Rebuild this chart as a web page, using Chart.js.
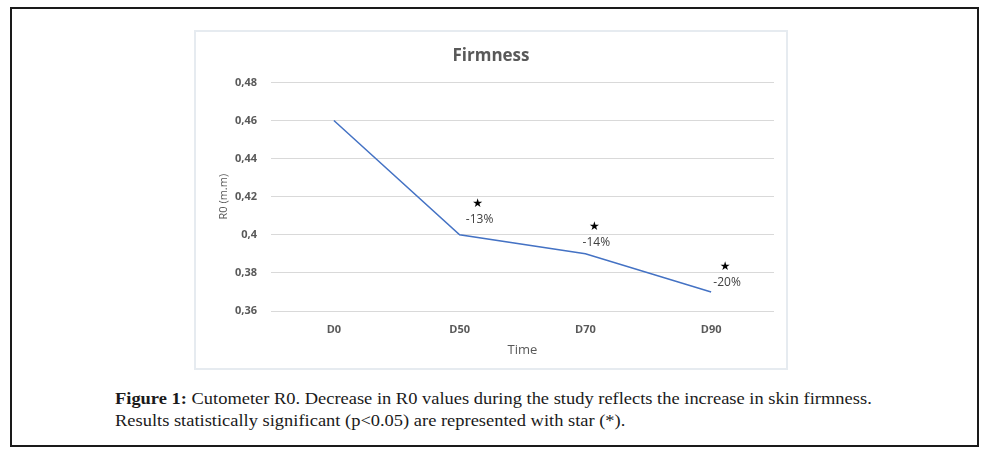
<!DOCTYPE html>
<html lang="en">
<head>
    <meta charset="UTF-8">
    <title>Firmness</title>
    <script src="https://cdn.jsdelivr.net/npm/chart.js"></script>
    <style>
        body {
            margin: 0;
            background: #ffffff;
        }

        .frame {
            position: absolute;
            left: 10px;
            top: 7px;
            width: 965px;
            height: 436px;
            border: 2px solid #1a1a1a;
        }

        .chart-box {
            position: absolute;
            left: 194px;
            top: 30px;
            width: 590px;
            height: 336px;
            border: 2px solid #e6ebf0;
        }

        .caption {
            position: absolute;
            left: 115px;
            top: 388px;
            font-family: "Liberation Serif", "DejaVu Serif", serif;
            font-size: 17px;
            line-height: 22px;
            color: #1a1a1a;
            white-space: nowrap;
            transform: scaleX(1.085);
            transform-origin: left top;
        }
    </style>
</head>
<body>

    <div class="frame"></div>

    <!-- Graphique -->
    <div class="chart-box">
        <canvas id="graphFirmness" width="590" height="336"></canvas>
    </div>

    <div class="caption">
        <b>Figure 1:</b> Cutometer R0. Decrease in R0 values during the study reflects the increase in skin firmness.<br>
        Results statistically significant (p&lt;0.05) are represented with star (*).
    </div>

    <script>
        // Données
        const days = ['D0', 'D50', 'D70', 'D90'];
        const r0Values = [0.46, 0.40, 0.39, 0.37];
        const yTicks = [0.36, 0.38, 0.40, 0.42, 0.44, 0.46, 0.48];
        // étoiles (p<0.05) et variations
        const starValues = [null, 0.416, 0.404, 0.383];
        const starLabels = ['', '-13%', '-14%', '-20%'];

        const starOffsets = [0, 18, 9, 14];

        // plugin pour les étoiles et les pourcentages
        const starPlugin = {
            id: 'stars',
            afterDatasetsDraw(chart) {
                const ctx = chart.ctx;
                const xs = chart.scales.x;
                const ys = chart.scales.y;
                ctx.save();
                ctx.textAlign = 'center';
                ctx.textBaseline = 'middle';
                for (let i = 0; i < starValues.length; i++) {
                    if (starValues[i] === null) continue;
                    const x = xs.getPixelForValue(i) + starOffsets[i];
                    const y = ys.getPixelForValue(starValues[i]);
                    ctx.fillStyle = '#000000';
                    ctx.font = '12px "DejaVu Sans"';
                    ctx.fillText('\u2605', x, y);
                    ctx.fillStyle = '#404040';
                    ctx.font = '12px "Open Sans", sans-serif';
                    ctx.fillText(starLabels[i], x + 2, y + 15);
                }
                ctx.restore();
            }
        };

        const ctx1 = document.getElementById('graphFirmness').getContext('2d');
        const graphFirmness = new Chart(ctx1, {
            type: 'line',
            data: {
                labels: days,
                datasets: [{
                    label: 'R0',
                    data: r0Values,
                    borderColor: '#4472c4',
                    borderWidth: 1.5,
                    pointRadius: 0,
                    tension: 0,
                    fill: false
                }]
            },
            plugins: [starPlugin],
            options: {
                responsive: false,
                animation: false,
                layout: {
                    padding: { left: 12, right: 12, top: 0, bottom: 10 }
                },
                plugins: {
                    legend: { display: false },
                    tooltip: { enabled: false },
                    title: {
                        display: true,
                        text: 'Firmness',
                        color: '#595959',
                        font: { family: '"Open Sans", sans-serif', size: 17, weight: 'bold' },
                        padding: { top: 14, bottom: 16 }
                    }
                },
                scales: {
                    x: {
                        offset: true,
                        grid: { display: false },
                        border: { display: false },
                        ticks: {
                            color: '#595959',
                            font: { family: '"Open Sans", sans-serif', size: 11, weight: 'bold' },
                            padding: 4
                        },
                        title: {
                            display: true,
                            text: 'Time',
                            color: '#595959',
                            font: { family: '"Open Sans", sans-serif', size: 13 },
                            padding: { top: 4, bottom: 0 }
                        },
                        afterFit(scale) { scale.height = 47; }
                    },
                    y: {
                        min: 0.36,
                        max: 0.48,
                        afterBuildTicks(scale) {
                            scale.ticks = yTicks.map(v => ({ value: v }));
                        },
                        grid: { color: '#d9d9d9', lineWidth: 1, drawTicks: false },
                        border: { display: false },
                        ticks: {
                            color: '#595959',
                            font: { family: '"Open Sans", sans-serif', size: 11, weight: 'bold' },
                            padding: 14,
                            callback: function(value) {
                                return String(Math.round(value * 100) / 100).replace('.', ',');
                            }
                        },
                        title: {
                            display: true,
                            text: 'R0 (m.m)',
                            color: '#595959',
                            font: { family: '"Open Sans", sans-serif', size: 11 },
                            padding: { top: 9, bottom: 0 }
                        },
                        afterFit(scale) { scale.width = 63; }
                    }
                }
            }
        });
    </script>

</body>
</html>
